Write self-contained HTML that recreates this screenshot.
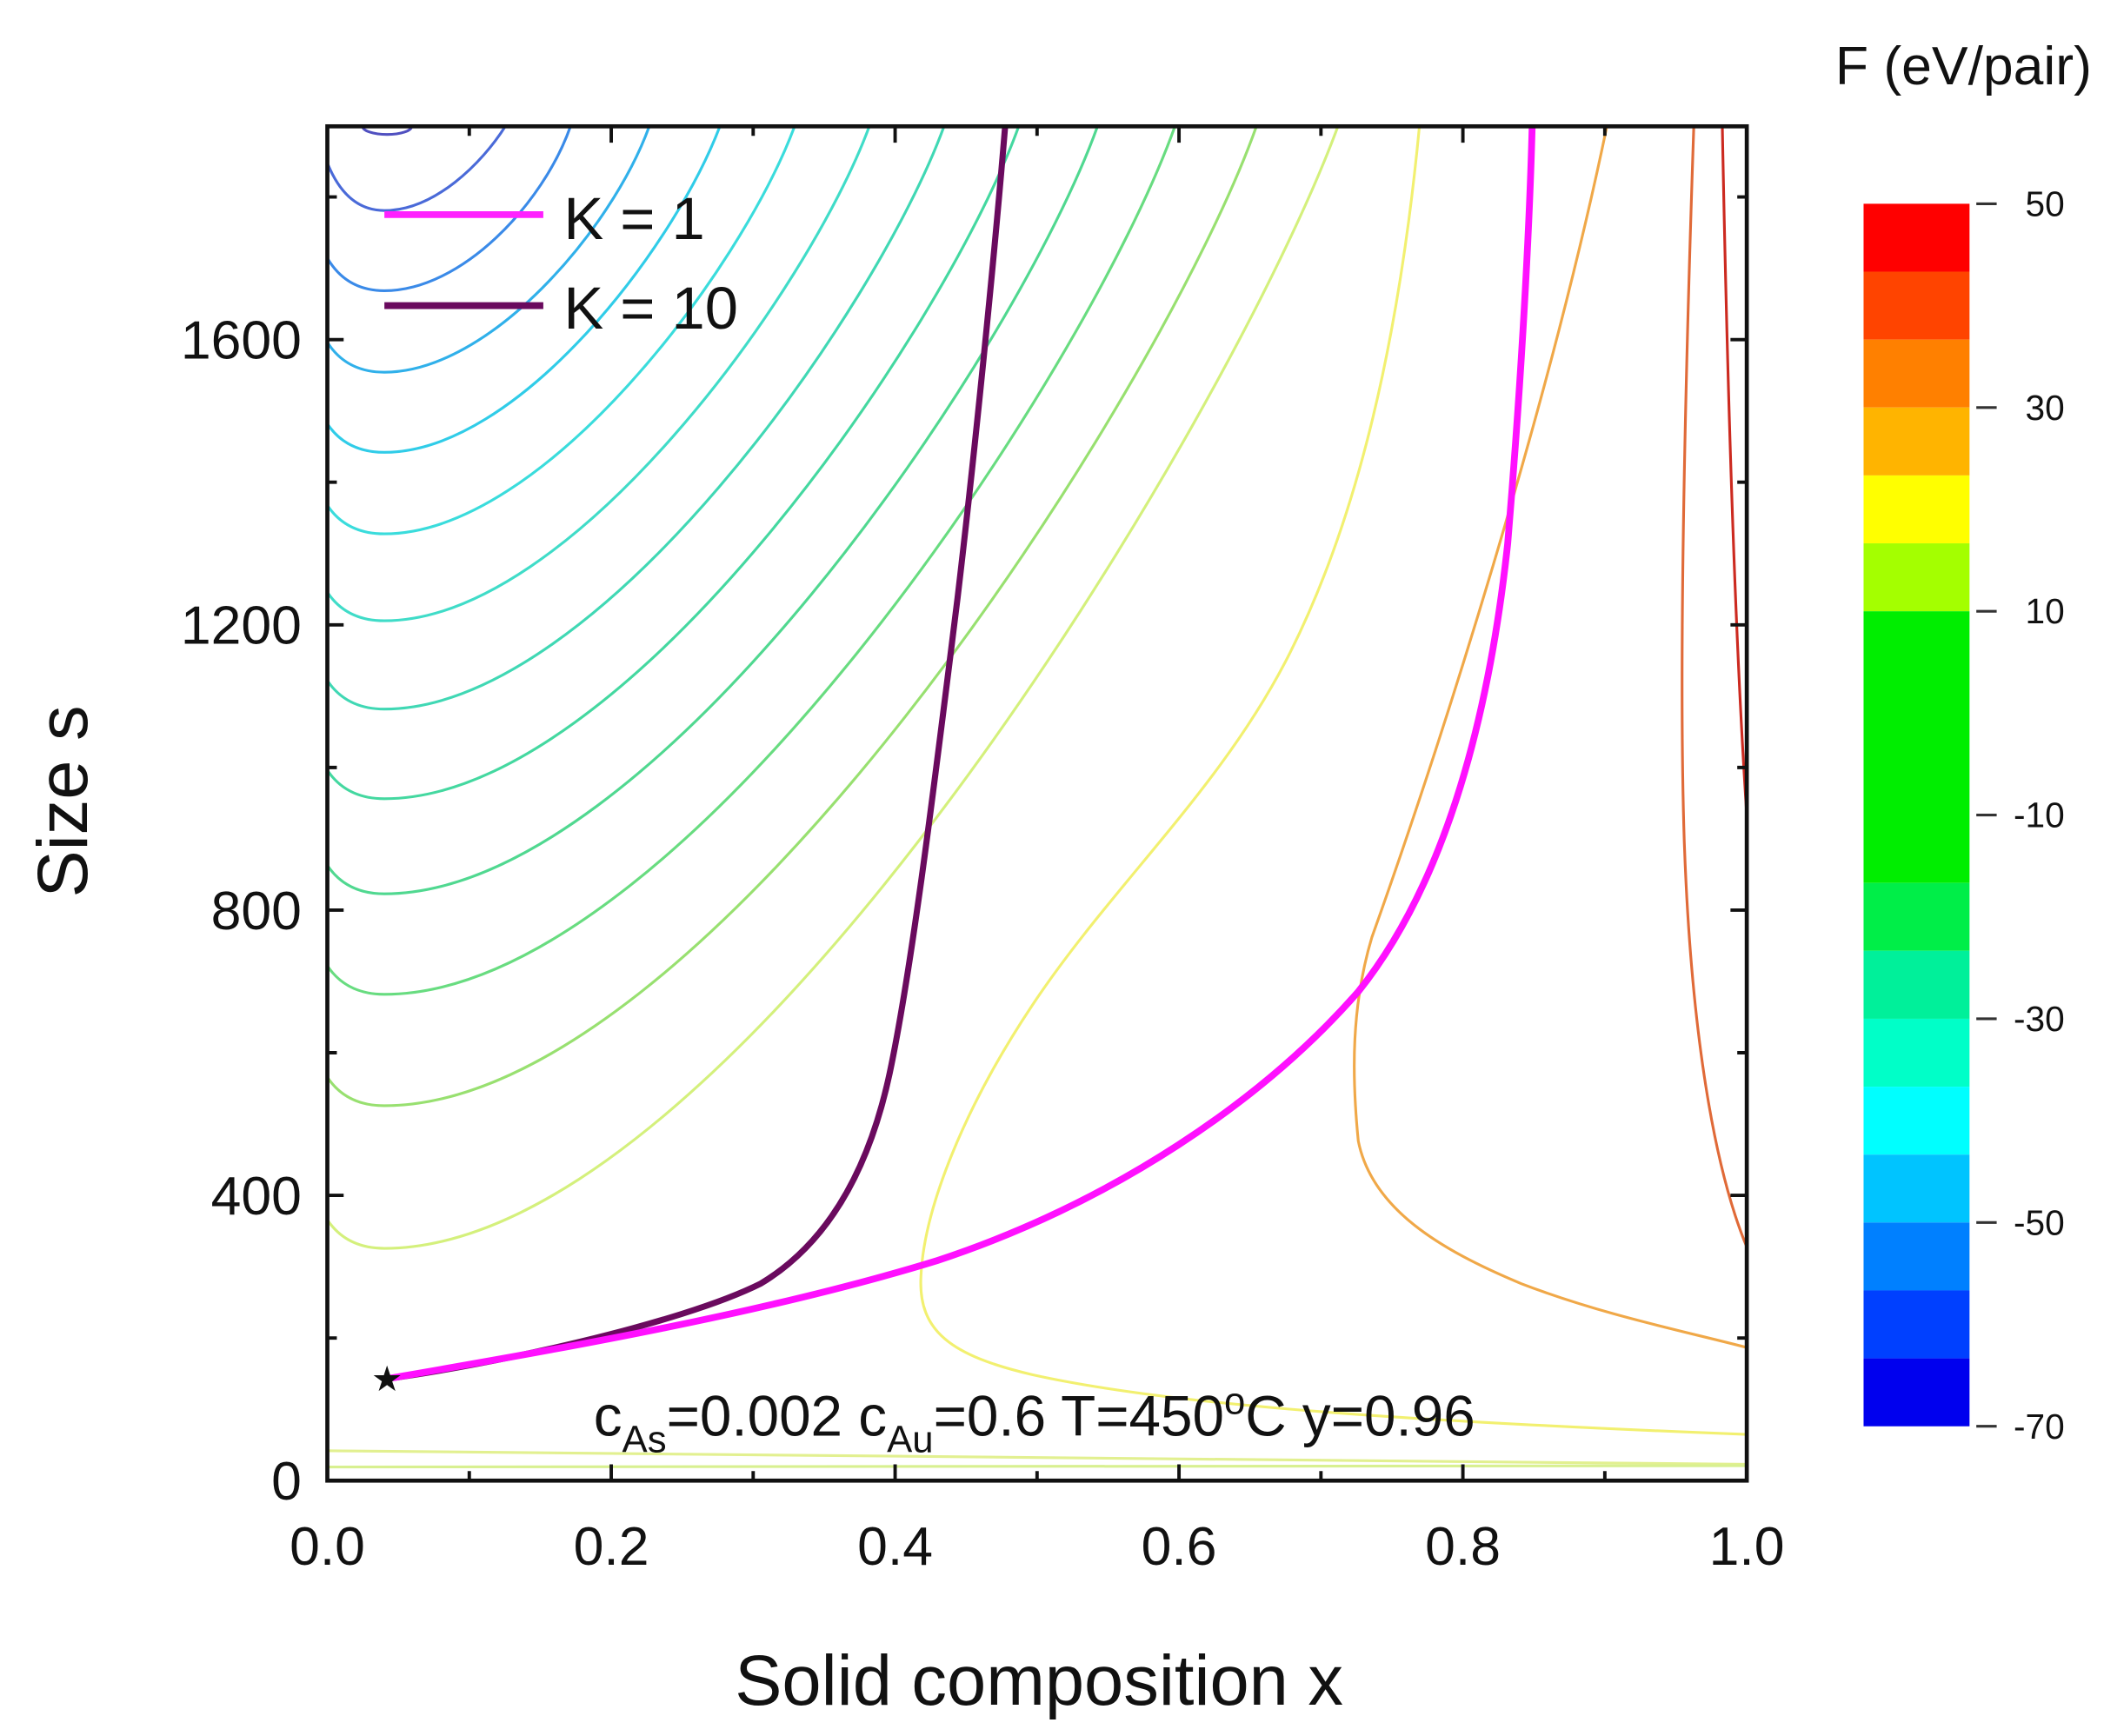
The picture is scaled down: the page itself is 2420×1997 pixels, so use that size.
<!DOCTYPE html>
<html><head><meta charset="utf-8"><style>
html,body{margin:0;padding:0;background:#fff;}
svg{display:block;}
text{font-family:"Liberation Sans",sans-serif;fill:#111;}
</style></head><body>
<svg width="2420" height="1997" viewBox="0 0 1549 1278" preserveAspectRatio="none" xmlns="http://www.w3.org/2000/svg">
<defs><clipPath id="c"><rect x="241" y="93" width="1045" height="997"/></clipPath></defs>
<g clip-path="url(#c)" fill="none" stroke-width="2">
<ellipse cx="285" cy="93" rx="18" ry="6" stroke="#5050c0" stroke-width="2"/>
<path d="M241,120 Q255,155 283,155 C320,155 355,120 372,93" stroke="#4a6ad8"/>
<path d="M241,190 Q255,214 283,214 C340,214 400,150 420,93" stroke="#3a8ae8"/>
<path d="M241,252 Q255,274 283,274 C360,274 450,170 478,93" stroke="#30b0ea"/>
<path d="M241,312 Q255,333 283,333 C380,333 495,185 530,93" stroke="#30cce8"/>
<path d="M241,372 Q255,393 283,393 C400,393 545,200 585,93" stroke="#3adcdc"/>
<path d="M241,436 Q255,457 283,457 C420,457 595,215 640,93" stroke="#40dcc8"/>
<path d="M241,501 Q255,522 283,522 C440,522 645,230 695,93" stroke="#40d8b4"/>
<path d="M241,567 Q255,588 283,588 C460,588 695,245 750,93" stroke="#44d8a0"/>
<path d="M241,637 Q255,658 283,658 C480,658 748,260 808,93" stroke="#50d890"/>
<path d="M241,711 Q255,732 283,732 C500,732 800,275 865,93" stroke="#68dc80"/>
<path d="M241,793 Q255,814 283,814 C520,814 855,290 925,93" stroke="#98e070"/>
<path d="M241,898 Q255,919 283,919 C540,919 905,310 985,93" stroke="#d4f07c"/>
<path d="M1045,93 C1030,250 1000,380 950,480 C900,580 820,650 760,740 C710,815 680,890 678,940 C676,980 700,998 760,1012 C850,1032 1000,1045 1286,1056" stroke="#f2f070"/>
<path d="M1183,93 C1140,300 1060,550 1010,690 C995,740 995,790 1000,840 C1010,890 1060,920 1120,945 C1180,968 1240,980 1286,992" stroke="#f0a848"/>
<path d="M1247,93 C1240,300 1236,500 1240,620 C1245,760 1262,860 1286,918" stroke="#e06a38"/>
<path d="M1268,93 C1272,300 1278,480 1286,600" stroke="#cc2a20"/>
<path d="M241,1068 L1286,1078" stroke="#e2f090"/>
<path d="M241,1080 L1286,1079" stroke="#d8f090"/>
</g>
<g clip-path="url(#c)" fill="none" stroke-linecap="round">
<path d="M285,1015 C360,1005 500,975 560,945 C610,915 640,860 655,790 C672,710 690,560 705,440 C718,330 732,190 740,93" stroke="#6a0a5e" stroke-width="4.5"/>
<path d="M285,1015 C400,995 560,968 690,928 C820,885 930,810 1000,730 C1060,655 1095,540 1110,400 C1120,280 1126,170 1128,93" stroke="#ff10ff" stroke-width="5"/>
</g>
<text x="285" y="1024" font-size="26" text-anchor="middle">★</text>
<rect x="241" y="93" width="1045" height="997" fill="none" stroke="#111" stroke-width="3"/>
<g stroke="#111" stroke-width="2.5">
<path d="M241,1090v-12M450,1090v-12M659,1090v-12M868,1090v-12M1077,1090v-12M1286,1090v-12"/>
<path d="M345.5,1090v-7M554.5,1090v-7M763.5,1090v-7M972.5,1090v-7M1181.5,1090v-7"/>
<path d="M241,93v12M450,93v12M659,93v12M868,93v12M1077,93v12"/>
<path d="M345.5,93v7M554.5,93v7M763.5,93v7M972.5,93v7M1181.5,93v7"/>
<path d="M241,1090h12M241,880h12M241,670h12M241,460h12M241,250h12"/>
<path d="M241,985h7M241,775h7M241,565h7M241,355h7M241,145h7"/>
<path d="M1286,1090h-12M1286,880h-12M1286,670h-12M1286,460h-12M1286,250h-12"/>
<path d="M1286,985h-7M1286,775h-7M1286,565h-7M1286,355h-7M1286,145h-7"/>
</g>
<g font-size="40" text-anchor="middle">
<text x="241" y="1152">0.0</text><text x="450" y="1152">0.2</text><text x="659" y="1152">0.4</text><text x="868" y="1152">0.6</text><text x="1077" y="1152">0.8</text><text x="1286" y="1152">1.0</text>
</g>
<g font-size="40" text-anchor="end">
<text x="222" y="1104">0</text><text x="222" y="894">400</text><text x="222" y="684">800</text><text x="222" y="474">1200</text><text x="222" y="264">1600</text>
</g>
<text x="765" y="1255" font-size="52" text-anchor="middle">Solid composition x</text>
<text transform="translate(64,590) rotate(-90)" font-size="52" text-anchor="middle">Size s</text>
<line x1="283" y1="158" x2="400" y2="158" stroke="#ff20ff" stroke-width="5"/>
<line x1="283" y1="225" x2="400" y2="225" stroke="#6a0a5e" stroke-width="5"/>
<text x="415" y="176" font-size="44">K = 1</text>
<text x="415" y="242" font-size="44">K = 10</text>
<text x="437" y="1057" font-size="42">c<tspan font-size="28" dy="12">As</tspan><tspan dy="-12">=0.002 c</tspan><tspan font-size="28" dy="12">Au</tspan><tspan dy="-12">=0.6 T=450</tspan><tspan font-size="28" dy="-16">o</tspan><tspan dy="16">C y=0.96</tspan></text>
<g>
<rect x="1372" y="150" width="78" height="50" fill="#ff0000"/>
<rect x="1372" y="200" width="78" height="50" fill="#ff4400"/>
<rect x="1372" y="250" width="78" height="50" fill="#ff8000"/>
<rect x="1372" y="300" width="78" height="50" fill="#ffb400"/>
<rect x="1372" y="350" width="78" height="50" fill="#ffff00"/>
<rect x="1372" y="400" width="78" height="50" fill="#a4ff00"/>
<rect x="1372" y="450" width="78" height="200" fill="#00ee00"/>
<rect x="1372" y="650" width="78" height="50" fill="#00ee48"/>
<rect x="1372" y="700" width="78" height="50" fill="#00f09a"/>
<rect x="1372" y="750" width="78" height="50" fill="#00ffc8"/>
<rect x="1372" y="800" width="78" height="50" fill="#00ffff"/>
<rect x="1372" y="850" width="78" height="50" fill="#00c4ff"/>
<rect x="1372" y="900" width="78" height="50" fill="#0080ff"/>
<rect x="1372" y="950" width="78" height="50" fill="#0040ff"/>
<rect x="1372" y="1000" width="78" height="50" fill="#0000ee"/>
</g>
<g stroke="#333" stroke-width="2">
<path d="M1455,150h15M1455,300h15M1455,450h15M1455,600h15M1455,750h15M1455,900h15M1455,1050h15"/>
</g>
<g font-size="26" text-anchor="end">
<text x="1520" y="159">50</text><text x="1520" y="309">30</text><text x="1520" y="459">10</text><text x="1520" y="609">-10</text><text x="1520" y="759">-30</text><text x="1520" y="909">-50</text><text x="1520" y="1059">-70</text>
</g>
<text x="1540" y="62" font-size="40" text-anchor="end">F (eV/pair)</text>
</svg>
</body></html>
